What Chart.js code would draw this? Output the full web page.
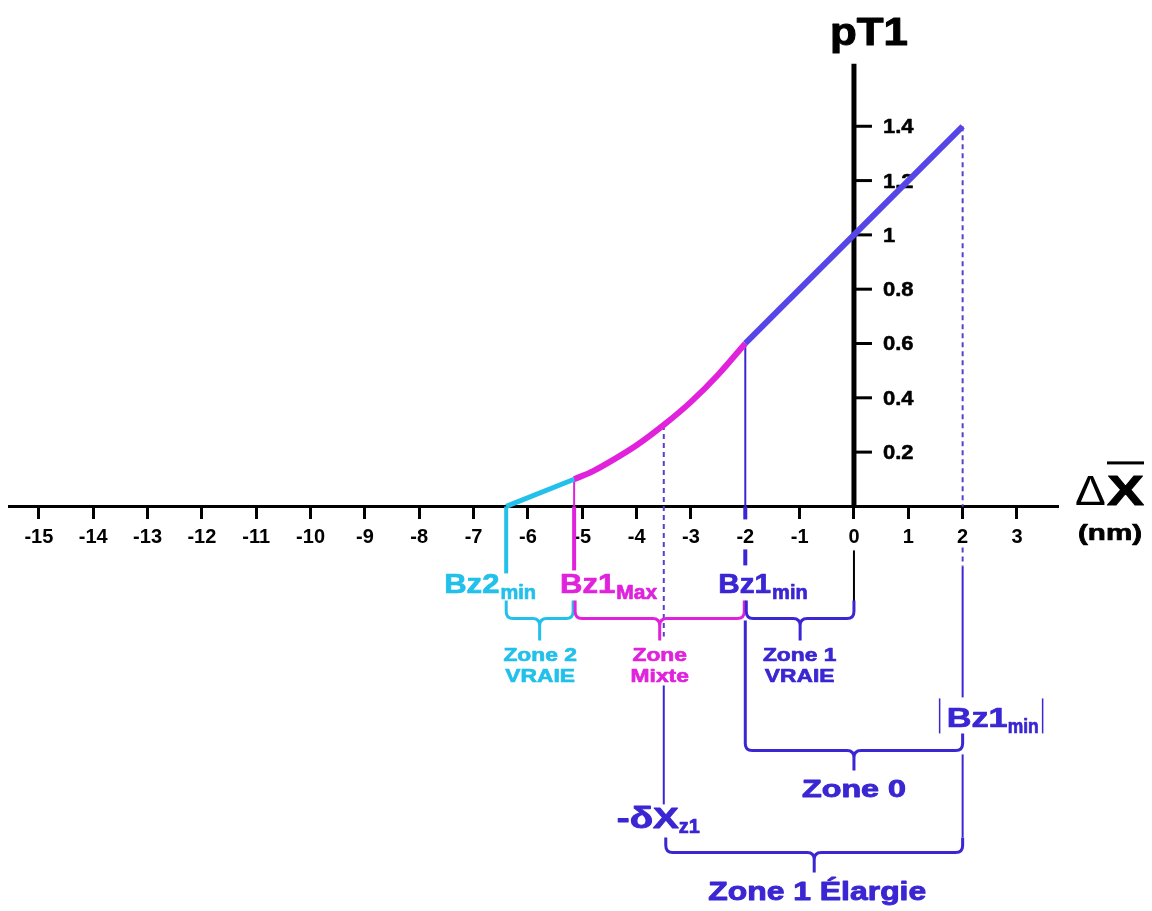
<!DOCTYPE html>
<html>
<head>
<meta charset="utf-8">
<title>pT1 en fonction de ΔX</title>
<script src="https://cdn.jsdelivr.net/npm/chart.js@4/dist/chart.umd.min.js"></script>
<style>
  html, body { margin: 0; padding: 0; background: #fff; }
  #wrap { width: 1152px; height: 911px; }
</style>
</head>
<body>
<div id="wrap"><canvas id="chart" width="1152" height="911"></canvas></div>
<script>
// ---- data ----
const xTickValues = [-15, -14, -13, -12, -11, -10, -9, -8, -7, -6, -5, -4, -3, -2, -1, 0, 1, 2, 3];
const yTickValues = [0.2, 0.4, 0.6, 0.8, 1, 1.2, 1.4];

// Zone 2 vraie (cyan segment)
const zone2X = [-6.4, -5.15];
const zone2Y = [0, 0.1];
// Zone mixte (magenta curve)
const mixteX = [-5.15, -4.8, -4.4, -4.0, -3.5, -3.0, -2.5, -2.0];
const mixteY = [0.10, 0.13, 0.175, 0.225, 0.30, 0.385, 0.485, 0.60];
// Zone 1 (blue straight line)
const zone1X = [-2, 2];
const zone1Y = [0.6, 1.4];

// remarkable abscissae (nm)
const bz2Min = -6.4;
const bz1Max = -5.15;
const deltaXz1 = -3.5;
const bz1Min = -2;
const absBz1Min = 2;

// ---- styles ----
const FONT = '"Liberation Sans", Arial, Helvetica, sans-serif';
const BLUE_LINE = '#5646e8';
const BLUE = '#3a26d2';
const MAGENTA = '#e022dc';
const CYAN = '#22c0ea';
const DASH = '#5b3fc9';
const Y_AXIS_TOP = 1.63;

const pts = (xs, ys) => xs.map((v, i) => ({ x: v, y: ys[i] }));

function seg(ctx, x1, y1, x2, y2) {
  ctx.beginPath();
  ctx.moveTo(x1, y1);
  ctx.lineTo(x2, y2);
  ctx.stroke();
}

// text with optional horizontal stretch (sx) or fixed target width
function txt(ctx, s, x, y, o) {
  ctx.save();
  ctx.font = (o.weight || 'bold') + ' ' + o.size + 'px ' + FONT;
  ctx.fillStyle = o.color || '#000';
  ctx.strokeStyle = o.color || '#000';
  ctx.textAlign = 'left';
  ctx.textBaseline = 'alphabetic';
  const raw = ctx.measureText(s).width;
  const sx = o.width ? o.width / raw : (o.sx || 1);
  const w = raw * sx;
  const left = o.align === 'center' ? x - w / 2 : o.align === 'right' ? x - w : x;
  ctx.translate(left, y);
  ctx.scale(sx, 1);
  ctx.fillText(s, 0, 0);
  if (o.weight !== 'normal') {
    ctx.lineWidth = o.heavy || 0.7;
    ctx.lineJoin = 'round';
    ctx.strokeText(s, 0, 0);
  }
  ctx.restore();
  return w;
}

// curly brace opening downward; ends rise to yTopL / yTopR
function brace(ctx, x1, x2, yTopL, yTopR, yH, yTip, color, lw) {
  const r = 7;
  const xc = (x1 + x2) / 2;
  ctx.save();
  ctx.strokeStyle = color;
  ctx.lineWidth = lw;
  ctx.lineJoin = 'round';
  ctx.beginPath();
  ctx.moveTo(x1, yTopL);
  ctx.lineTo(x1, yH - r);
  ctx.quadraticCurveTo(x1, yH, x1 + r, yH);
  ctx.lineTo(xc - r, yH);
  ctx.quadraticCurveTo(xc, yH, xc, yH + r);
  ctx.lineTo(xc, yTip);
  ctx.moveTo(xc, yH + r);
  ctx.quadraticCurveTo(xc, yH, xc + r, yH);
  ctx.lineTo(x2 - r, yH);
  ctx.quadraticCurveTo(x2, yH, x2, yH - r);
  ctx.lineTo(x2, yTopR);
  ctx.stroke();
  ctx.restore();
}

const zonesPlugin = {
  id: 'zones',
  beforeDatasetsDraw(chart) {
    const { ctx, scales: { x, y } } = chart;
    const X = v => x.getPixelForValue(v);
    const Y = v => y.getPixelForValue(v);
    const y0 = Y(0);
    ctx.save();

    // vertical pT1 axis with ticks and labels on its right
    ctx.strokeStyle = '#000';
    ctx.lineWidth = 5;
    seg(ctx, X(0), Y(Y_AXIS_TOP), X(0), y0);
    ctx.lineWidth = 3;
    yTickValues.forEach(v => {
      seg(ctx, X(0), Y(v), X(0) + 18, Y(v));
      txt(ctx, String(v), X(0) + 29, Y(v) + 7, { size: 20, sx: 1.1, heavy: 0.5 });
    });

    // guides from the curve down to the axis
    ctx.strokeStyle = MAGENTA;
    ctx.lineWidth = 2;
    seg(ctx, X(bz1Max), Y(mixteY[0]), X(bz1Max), y0);
    ctx.strokeStyle = BLUE;
    seg(ctx, X(bz1Min), Y(zone1Y[0]), X(bz1Min), y0);

    ctx.strokeStyle = DASH;
    ctx.lineWidth = 2;
    ctx.setLineDash([5, 4]);
    seg(ctx, X(deltaXz1), Y(mixteY[4]), X(deltaXz1), y0 + 130);
    seg(ctx, X(absBz1Min), Y(zone1Y[1]), X(absBz1Min), y0);
    seg(ctx, X(absBz1Min), y0 + 41, X(absBz1Min), y0 + 60);
    ctx.setLineDash([]);
    ctx.restore();
  },
  afterDraw(chart) {
    const { ctx, scales: { x, y } } = chart;
    const X = v => x.getPixelForValue(v);
    const Y = v => y.getPixelForValue(v);
    const y0 = Y(0);
    ctx.save();

    // axis titles
    txt(ctx, 'pT1', X(0) + 15, 45, { size: 38, width: 78, align: 'center', heavy: 1 });
    txt(ctx, 'Δ', x.right + 17, y0 - 1, { size: 42, weight: 'normal', sx: 1.1 });
    const xw = txt(ctx, 'X', x.right + 49, y0 - 1, { size: 42, width: 37, heavy: 1 });
    ctx.fillStyle = '#000';
    ctx.fillRect(x.right + 49, y0 - 45, xw, 3);
    txt(ctx, '(nm)', x.right + 20, y0 + 34, { size: 22, width: 64 });

    // marker lines below the axis
    ctx.lineCap = 'butt';
    ctx.strokeStyle = CYAN; ctx.lineWidth = 4;
    seg(ctx, X(bz2Min), y0, X(bz2Min), y0 + 67);
    ctx.strokeStyle = MAGENTA; ctx.lineWidth = 4;
    seg(ctx, X(bz1Max), y0, X(bz1Max), y0 + 64);
    ctx.strokeStyle = BLUE; ctx.lineWidth = 4;
    seg(ctx, X(bz1Min), y0, X(bz1Min), y0 + 13);
    seg(ctx, X(bz1Min), y0 + 43, X(bz1Min), y0 + 59);
    ctx.strokeStyle = '#000'; ctx.lineWidth = 2;
    seg(ctx, X(0), y0 + 44, X(0), y0 + 97);

    // point labels
    let w = txt(ctx, 'Bz2', X(bz2Min) - 62, y0 + 87, { size: 27, sx: 1.15, color: CYAN });
    txt(ctx, 'min', X(bz2Min) - 62 + w + 1, y0 + 93, { size: 20, sx: 1.0, color: CYAN });
    w = txt(ctx, 'Bz1', X(bz1Max) - 14, y0 + 87, { size: 27, sx: 1.15, color: MAGENTA });
    txt(ctx, 'Max', X(bz1Max) - 14 + w + 1, y0 + 93, { size: 20, sx: 1.05, color: MAGENTA });
    w = txt(ctx, 'Bz1', X(bz1Min) - 27, y0 + 87, { size: 27, sx: 1.1, color: BLUE });
    txt(ctx, 'min', X(bz1Min) - 27 + w + 1, y0 + 93, { size: 20, sx: 1.0, color: BLUE });

    // first row of braces
    brace(ctx, X(bz2Min), X(bz1Max) - 1, y0 + 94, y0 + 94, y0 + 112, y0 + 134, CYAN, 3);
    brace(ctx, X(bz1Max) + 1, X(bz1Min) - 1, y0 + 94, y0 + 94, y0 + 112, y0 + 134, MAGENTA, 3);
    brace(ctx, X(bz1Min) + 1, X(0), y0 + 94, y0 + 94, y0 + 112, y0 + 134, BLUE, 3);

    const c2 = (X(bz2Min) + X(bz1Max)) / 2;
    const cm = (X(bz1Max) + X(bz1Min)) / 2;
    const c1 = (X(bz1Min) + X(0)) / 2;
    txt(ctx, 'Zone 2', c2, y0 + 155, { size: 19, sx: 1.2, color: CYAN, align: 'center' });
    txt(ctx, 'VRAIE', c2, y0 + 176, { size: 19, sx: 1.2, color: CYAN, align: 'center' });
    txt(ctx, 'Zone', cm, y0 + 155, { size: 19, sx: 1.2, color: MAGENTA, align: 'center' });
    txt(ctx, 'Mixte', cm, y0 + 176, { size: 19, sx: 1.2, color: MAGENTA, align: 'center' });
    txt(ctx, 'Zone 1', c1, y0 + 155, { size: 19, sx: 1.2, color: BLUE, align: 'center' });
    txt(ctx, 'VRAIE', c1, y0 + 176, { size: 19, sx: 1.2, color: BLUE, align: 'center' });

    // Zone 0 between Bz1min and |Bz1min|
    ctx.strokeStyle = BLUE; ctx.lineWidth = 2;
    seg(ctx, X(absBz1Min), y0 + 60, X(absBz1Min), y0 + 191);
    brace(ctx, X(bz1Min), X(absBz1Min), y0 + 114, y0 + 227, y0 + 244, y0 + 264, BLUE, 3);
    txt(ctx, 'Zone 0', (X(bz1Min) + X(absBz1Min)) / 2, y0 + 291, { size: 23, width: 104, color: BLUE, align: 'center', heavy: 0.9 });

    // |Bz1min| label
    const lx = X(absBz1Min) - 23;
    ctx.strokeStyle = BLUE; ctx.lineWidth = 1.5;
    seg(ctx, lx, y0 + 192, lx, y0 + 227);
    w = txt(ctx, 'Bz1', lx + 7, y0 + 221, { size: 28, width: 61, color: BLUE });
    const w2 = txt(ctx, 'min', lx + 7 + w, y0 + 227, { size: 20, width: 31, color: BLUE });
    ctx.strokeStyle = BLUE; ctx.lineWidth = 1.5;
    seg(ctx, lx + 7 + w + w2 + 4, y0 + 192, lx + 7 + w + w2 + 4, y0 + 227);

    // Zone 1 élargie between -δXz1 and |Bz1min|
    ctx.strokeStyle = BLUE; ctx.lineWidth = 2;
    seg(ctx, X(deltaXz1), y0 + 179, X(deltaXz1), y0 + 298);
    seg(ctx, X(absBz1Min), y0 + 248, X(absBz1Min), y0 + 331);
    w = txt(ctx, '-δX', X(deltaXz1) - 47, y0 + 322, { size: 30, width: 62, color: BLUE, heavy: 0.9 });
    txt(ctx, 'z1', X(deltaXz1) - 47 + w, y0 + 327, { size: 20, width: 21, color: BLUE });
    brace(ctx, X(deltaXz1) + 2, X(absBz1Min), y0 + 331, y0 + 331, y0 + 346, y0 + 366, BLUE, 3);
    txt(ctx, 'Zone 1 Élargie', (X(deltaXz1) + X(absBz1Min)) / 2 + 4, y0 + 394, { size: 25, width: 218, color: BLUE, align: 'center', heavy: 0.9 });

    ctx.restore();
  }
};

new Chart(document.getElementById('chart'), {
  type: 'line',
  data: {
    datasets: [
      { data: pts(zone2X, zone2Y), borderColor: CYAN, borderWidth: 5 },
      { data: pts(mixteX, mixteY), borderColor: MAGENTA, borderWidth: 6, cubicInterpolationMode: 'monotone' },
      { data: pts(zone1X, zone1Y), borderColor: BLUE_LINE, borderWidth: 6 }
    ]
  },
  options: {
    responsive: false,
    devicePixelRatio: 1,
    animation: false,
    events: [],
    layout: { padding: { left: 9, right: 94, top: 0, bottom: 0 } },
    elements: { point: { radius: 0 }, line: { borderCapStyle: 'butt', fill: false } },
    plugins: { legend: { display: false }, tooltip: { enabled: false } },
    scales: {
      x: {
        type: 'linear',
        position: { y: 0 },
        min: -15.55,
        max: 3.755,
        afterBuildTicks: s => { s.ticks = xTickValues.map(v => ({ value: v })); },
        ticks: {
          autoSkip: false,
          maxRotation: 0,
          padding: 8,
          color: '#000',
          font: { family: FONT, size: 20, weight: 'bold' },
          callback: v => String(v)
        },
        grid: { drawOnChartArea: false, drawTicks: true, tickLength: 11, tickWidth: 3, tickColor: '#000' },
        border: { display: true, width: 3, color: '#000' }
      },
      y: {
        type: 'linear',
        min: -1.49,
        max: 1.865,
        display: false
      }
    }
  },
  plugins: [zonesPlugin]
});
</script>
</body>
</html>
